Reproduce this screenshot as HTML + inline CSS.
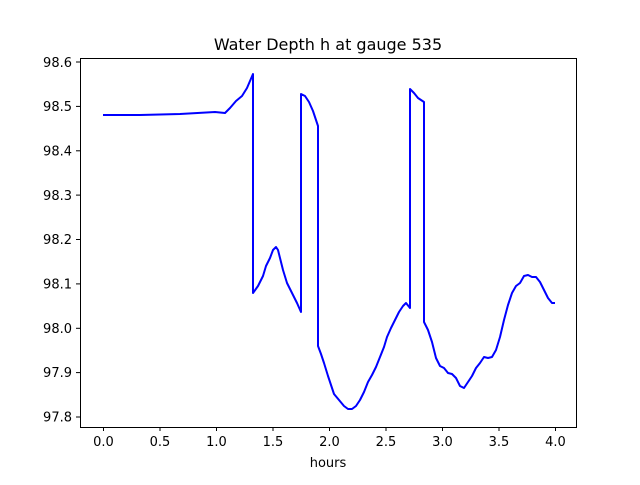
<!DOCTYPE html>
<html><head><meta charset="utf-8"><style>body{margin:0;background:#fff}</style></head><body>
<svg width="640" height="480" xmlns="http://www.w3.org/2000/svg" font-family="DejaVu Sans, Liberation Sans, sans-serif">
<rect width="640" height="480" fill="#fff"/>
<text x="328" y="50" font-size="16" text-anchor="middle">Water Depth h at gauge 535</text>
<path fill="none" stroke="#0000ff" stroke-width="2" stroke-linejoin="round" d="M103,115 L140,115 L180,114 L215,112 L225,113 L230,108 L236,101 L242,96 L247,88 L253,74 L253,293 L258,286 L263,276 L266,266 L270,258 L273,250 L276,247 L278,250 L280,258 L283,270 L287,283 L292,293 L297,303 L301,312 L301,94 L305,96 L309,102 L313,111 L318,126 L318,346 L321,354 L324,363 L328,376 L330,382 L334,394 L339,400 L344,406 L348,409 L352,409 L356,406 L360,400 L364,392 L368,382 L372,375 L376,367 L380,357 L384,347 L387,337 L391,328 L395,320 L399,312 L403,306 L406,303 L410,308 L410,89 L414,93 L418,98 L424,102 L424,322 L428,330 L432,342 L436,358 L440,366 L444,368 L448,373 L452,374 L456,378 L460,386 L464,388 L468,382 L472,376 L476,368 L480,363 L484,357 L488,358 L492,357 L496,350 L500,337 L504,320 L508,305 L512,293 L516,286 L520,283 L524,276 L528,275 L532,277 L536,277 L540,282 L544,290 L548,298 L552,303 L555,303"/>
<rect x="80.5" y="58.5" width="496" height="369" fill="none" stroke="#000" stroke-width="1"/>
<g stroke="#000" stroke-width="1">
<line x1="103.5" y1="427" x2="103.5" y2="431"/><line x1="160" y1="427" x2="160" y2="431"/><line x1="216.5" y1="427" x2="216.5" y2="431"/><line x1="273" y1="427" x2="273" y2="431"/><line x1="329.5" y1="427" x2="329.5" y2="431"/><line x1="386" y1="427" x2="386" y2="431"/><line x1="442.5" y1="427" x2="442.5" y2="431"/><line x1="499" y1="427" x2="499" y2="431"/><line x1="555.5" y1="427" x2="555.5" y2="431"/>
<line x1="76" y1="62" x2="80" y2="62"/><line x1="76" y1="106.4" x2="80" y2="106.4"/><line x1="76" y1="150.8" x2="80" y2="150.8"/><line x1="76" y1="195.1" x2="80" y2="195.1"/><line x1="76" y1="239.5" x2="80" y2="239.5"/><line x1="76" y1="283.9" x2="80" y2="283.9"/><line x1="76" y1="328.3" x2="80" y2="328.3"/><line x1="76" y1="372.6" x2="80" y2="372.6"/><line x1="76" y1="417" x2="80" y2="417"/>
</g>
<g font-size="13" text-anchor="middle">
<text x="103.5" y="446">0.0</text><text x="160" y="446">0.5</text><text x="216.5" y="446">1.0</text><text x="273" y="446">1.5</text><text x="329.5" y="446">2.0</text><text x="386" y="446">2.5</text><text x="442.5" y="446">3.0</text><text x="499" y="446">3.5</text><text x="555.5" y="446">4.0</text>
<text x="328" y="467">hours</text>
</g>
<g font-size="13" text-anchor="end">
<text x="72" y="67">98.6</text><text x="72" y="111">98.5</text><text x="72" y="155.5">98.4</text><text x="72" y="200">98.3</text><text x="72" y="244">98.2</text><text x="72" y="288.5">98.1</text><text x="72" y="333">98.0</text><text x="72" y="377">97.9</text><text x="72" y="421.5">97.8</text>
</g>
</svg>
</body></html>
